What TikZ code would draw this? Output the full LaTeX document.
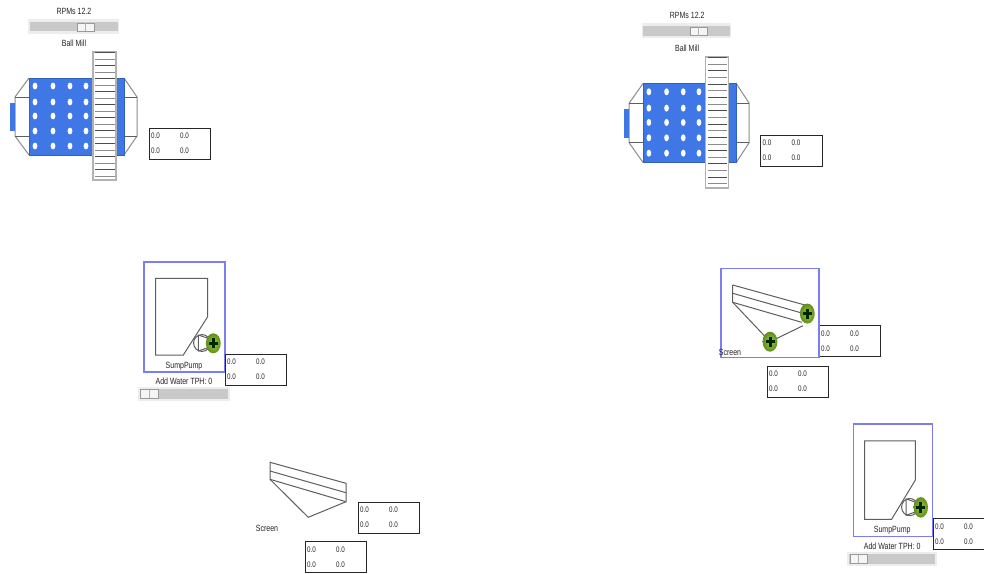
\documentclass[tikz,border=0pt]{standalone}
\usepackage{fontspec}
\setmainfont[FakeStretch=0.78]{Liberation Sans}
\definecolor{millblue}{HTML}{3F78E6}
\definecolor{framebl}{HTML}{7C7CF4}
\definecolor{txt}{HTML}{2A2226}
\definecolor{ln}{HTML}{5E5E5E}
\definecolor{ballin}{HTML}{A2C93A}
\definecolor{ballout}{HTML}{5F8E1E}
\tikzset{
  x=1pt,y=-1pt,
  lbl/.style={inner sep=0pt,font=\fontsize{9}{9}\selectfont,text=txt},
  val/.style={inner sep=0pt,anchor=west,font=\fontsize{8}{8}\selectfont,text=txt},
  tbox/.style={draw=black!85,line width=1pt,fill=white},
  part/.style={draw=ln,line width=1pt},
  bluep/.style={fill=millblue,draw=millblue!80!black,line width=.7pt},
  frm/.style={draw=framebl,line width=1.2pt},
  track/.style={fill=black!7,draw=none},
  groove/.style={fill=black!21,draw=none},
  thumb/.style={fill=black!4,draw=black!40,line width=.6pt},
}
% name, x, y (top left)
\newcommand{\valbox}[3]{%
  \draw[tbox] (#2,#3) rectangle ++(61.5,31);
  \node[val] (#1a) at (#2+2,#3+8) {0.0};
  \node[val] (#1b) at (#2+31,#3+8) {0.0};
  \node[val] (#1c) at (#2+2,#3+23) {0.0};
  \node[val] (#1d) at (#2+31,#3+23) {0.0};
}
\newcommand{\ball}[2]{%
  \shade[inner color=ballin,outer color=ballout]
    (#1,#2) ellipse [x radius=7.4,y radius=10];
  \fill[black!85!green] (#1-1.5,#2-5) rectangle (#1+1.5,#2+5);
  \fill[black!85!green] (#1-4.5,#2-1.6) rectangle (#1+4.5,#2+1.6);
}
\newcommand{\mill}[1]{%
  \node[lbl] (#1rpm) at (74,11) {RPMs 12.2};
  \fill[track] (28,19) rectangle (119,33.5);
  \fill[groove] (29.5,22) rectangle (117.5,31);
  \draw[thumb] (77,23) rectangle (94,31);
  \draw[black!30,line width=.5pt] (85.5,23) -- (85.5,31);
  \node[lbl] (#1name) at (74,43.5) {Ball Mill};
  \draw[part,draw=black!45] (29,78) -- (15,97) -- (15,136) -- (29,155);
  \draw[part] (15,97) -- (29,97) (15,136) -- (29,136);
  \fill[millblue] (10,103) rectangle (15,131);
  \draw[part,draw=black!45] (124,78) -- (137,97) -- (137,136) -- (124,155);
  \draw[part] (124,97) -- (137,97) (124,136) -- (137,136);
  \draw[bluep] (29,78) rectangle (93,155);
  \draw[bluep] (116,78) rectangle (124,155);
  \foreach \hx in {35,53,70,86}
    \foreach \hy in {86,102,116,131,146}
      \fill[white] (\hx,\hy) ellipse [x radius=2.4,y radius=3.4];
  \draw[fill=white,draw=black!30,line width=1.2pt] (93,52) rectangle (116,180);
  \foreach \ly [count=\li] in {52.5,59,65.5,72,78.5,85,91.5,98,104.5,111,117.5,124,130.5,137,143.5,150,156.5,163,169.5,176}{
    \pgfmathsetmacro{\shd}{mod(\li,2)==0 ? 45 : 70}
    \draw[line width=.9pt,draw=black!\shd] (95,\ly) -- (114.5,\ly);
  }
}
\newcommand{\sump}[1]{%
  \draw[frm] (144,262) rectangle (225,372);
  \draw[part] (155.7,278.3) -- (207.7,278.3) -- (207.7,316.7) -- (183.3,355) -- (155.7,355) -- cycle;
  \draw[part,fill=white] (202,343) circle [radius=8.4];
  \draw[part] (198.3,335) -- (198.3,351) -- (210,347) (198.3,335) -- (210,339);
  \ball{213.3}{343.3}
  \node[lbl] (#1name) at (184,366) {SumpPump};
  \node[lbl] (#1add) at (184,381) {Add Water TPH: 0};
  \fill[track] (138,387) rectangle (230,400.5);
  \fill[groove] (140,389) rectangle (228,398.5);
  \draw[thumb] (140.5,389.5) rectangle (158,398);
  \draw[black!30,line width=.5pt] (149.5,389.5) -- (149.5,398);
}
\begin{document}
\begin{tikzpicture}
\clip (0,0) rectangle (984,573);
\fill[white] (0,0) rectangle (984,573);
% left ball mill
\mill{ma}
\valbox{ta}{149}{128}
% left sump
\sump{sa}
\valbox{tb}{225}{354}
% left screen
\draw[part] (270,462.3) -- (346,483.3) -- (346,501.7) -- (308.3,517.3) -- (270,479.3) -- cycle;
\draw[part] (270,471) -- (346,492.7) (270,479.3) -- (346,501.7);
\node[lbl] (sca) at (267,528) {Screen};
\valbox{tc}{358}{502}
\valbox{td}{305}{541.5}
% right ball mill
\begin{scope}[shift={(614.5,3.8)},xscale=.982,yscale=1.023]
\mill{mb}
\end{scope}
\valbox{te}{760.5}{135}
% right screen
\valbox{tf}{819}{325.5}
\valbox{tg}{767}{366}
\draw[frm] (721,268.3) rectangle (819,357.7);
\draw[part] (732.7,285) -- (807,305.6) (732.7,285) -- (732.7,302.3) -- (770,341.7) -- (803,325.7);
\draw[part] (732.7,293.3) -- (807,314.5) (732.7,302.3) -- (801.7,322.3);
\ball{807.3}{313.6}
\ball{770}{341.7}
\node[lbl] (scb) at (730,352) {Screen};
% right sump
\begin{scope}[shift={(713,155.5)},xscale=.974,yscale=1.025]
\sump{sb}
\end{scope}
\valbox{th}{933}{518.5}
\end{tikzpicture}
\end{document}
